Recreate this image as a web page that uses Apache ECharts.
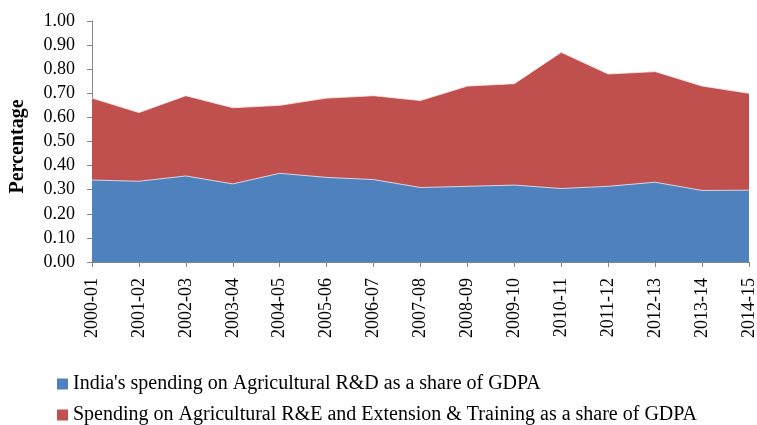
<!DOCTYPE html>
<html>
<head>
<meta charset="utf-8">
<script src="https://cdn.jsdelivr.net/npm/echarts@6/dist/echarts.min.js"></script>
<style>
html,body{margin:0;padding:0;background:#fff;}
#chart{width:757px;height:425px;}
</style>
</head>
<body>
<div id="chart"></div>
<script>
// Fiscal years
const years = ['2000-01','2001-02','2002-03','2003-04','2004-05','2005-06','2006-07','2007-08','2008-09','2009-10','2010-11','2011-12','2012-13','2013-14','2014-15'];
// Agricultural R&D spending, % of GDPA
const rdShare = [0.34,0.335,0.357,0.324,0.368,0.351,0.342,0.309,0.314,0.319,0.305,0.314,0.331,0.297,0.298];
// R&E plus Extension & Training spending, % of GDPA
const reShare = [0.68,0.62,0.69,0.64,0.65,0.68,0.69,0.67,0.73,0.74,0.87,0.78,0.79,0.73,0.70];

const seriesNames = [
  "India's spending on Agricultural R&D as a share of GDPA",
  "Spending on Agricultural R&E and Extension & Training as a share of GDPA"
];
const colors = ['#4f81bd', '#c0504d'];

const font = '"Liberation Serif","Times New Roman",serif';
const legendBase = {
  left: 57, padding: 0, itemGap: 10, itemWidth: 11, itemHeight: 11, icon: 'rect',
  textStyle: {fontFamily: font, fontSize: 20, lineHeight: 20, color: '#000'}
};

const chart = echarts.init(document.getElementById('chart'), null, {renderer:'canvas'});
chart.setOption({
  animation:false,
  textStyle:{fontFamily:font},
  grid:{left:92,right:8,top:21,bottom:163,containLabel:false,outerBoundsMode:'none'},
  legend:[
    Object.assign({}, legendBase, {top:374, data:[{name:seriesNames[0], itemStyle:{color:colors[0]}}]}),
    Object.assign({}, legendBase, {top:405, data:[{name:seriesNames[1], itemStyle:{color:colors[1]}}]})
  ],
  xAxis:{
    type:'category',data:years,boundaryGap:false,
    axisLine:{lineStyle:{color:'#868686'}},
    axisTick:{show:true,length:5,alignWithLabel:true,lineStyle:{color:'#868686'}},
    axisLabel:{rotate:90,interval:0,fontSize:18,color:'#000',fontFamily:font,margin:16},
    splitLine:{show:false}
  },
  yAxis:{
    type:'value',min:0,max:1,interval:0.1,
    name:'Percentage',nameLocation:'middle',nameGap:64,
    nameTextStyle:{fontFamily:font,fontSize:20,fontWeight:'bold',color:'#000',padding:[0,0,0,-10]},
    axisLine:{show:true,lineStyle:{color:'#868686'}},
    axisTick:{show:true,length:5,lineStyle:{color:'#868686'}},
    axisLabel:{formatter:v=>v.toFixed(2),fontSize:18,color:'#000',fontFamily:font,margin:17},
    splitLine:{show:false}
  },
  series:[
    {
      name:seriesNames[1],type:'line',data:reShare,symbol:'none',z:1,
      lineStyle:{color:'rgba(255,235,235,0.8)',width:1},
      itemStyle:{color:colors[1]},
      areaStyle:{color:colors[1],opacity:1}
    },
    {
      name:seriesNames[0],type:'line',data:rdShare,symbol:'none',z:2,
      lineStyle:{color:'rgba(235,240,255,0.8)',width:1},
      itemStyle:{color:colors[0]},
      areaStyle:{color:colors[0],opacity:1}
    }
  ]
});
</script>
</body>
</html>
